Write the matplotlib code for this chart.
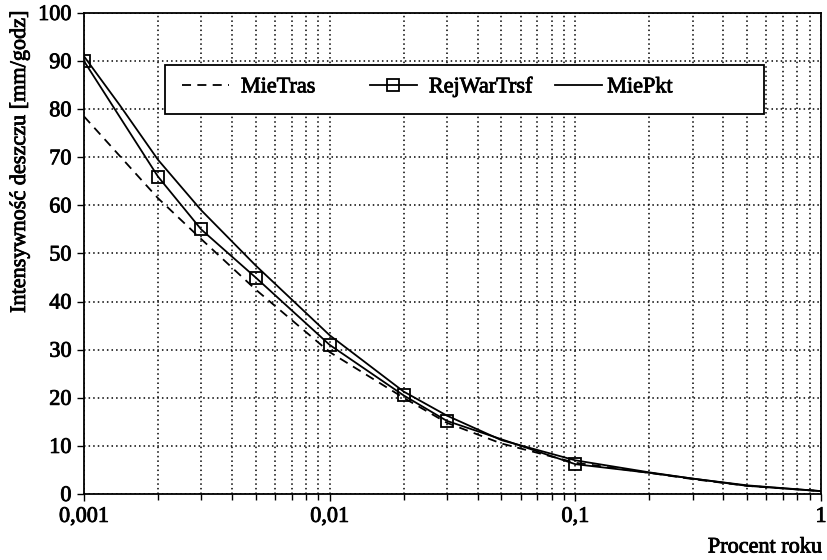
import matplotlib
matplotlib.use("Agg")
import matplotlib.pyplot as plt
import matplotlib.patheffects as pe
from matplotlib.legend import Legend
from matplotlib.patches import Rectangle
from matplotlib.ticker import FixedLocator, FuncFormatter, LogLocator, NullFormatter

# Percent of the year (exceedance) and rain intensity in mm/h
pct_tras = [0.001, 0.002, 0.003, 0.005, 0.01, 0.02, 0.03, 0.05, 0.1, 0.2, 0.3, 0.5, 1.0]
mie_tras = [78.5, 61.5, 53.0, 42.5, 29.5, 20.0, 14.8, 10.5, 6.5, 4.4, 3.1, 1.7, 0.6]

pct_rej = [0.001, 0.002, 0.003, 0.005, 0.01, 0.02, 0.03, 0.1, 0.2, 0.5, 1.0]
rej_war_trsf = [90.0, 66.0, 55.0, 45.0, 31.0, 20.5, 15.2, 6.2, 4.4, 1.7, 0.6]
rej_marked = 8  # squares drawn on the first measured points only

pct_pkt = [0.001, 0.0014, 0.002, 0.003, 0.005, 0.01, 0.02, 0.03, 0.05, 0.1, 0.2, 0.3, 0.5, 1.0]
mie_pkt = [91.0, 80.8, 69.5, 59.0, 47.5, 33.0, 21.3, 16.3, 11.2, 7.0, 4.5, 3.2, 1.8, 0.6]

x_ticks = [0.001, 0.01, 0.1, 1]
x_tick_labels = ["0,001", "0,01", "0,1", "1"]
y_ticks = list(range(0, 101, 10))

plt.rcParams["font.family"] = ["Liberation Serif", "DejaVu Serif"]
FS = 16
heavy = [pe.withStroke(linewidth=0.6, foreground="black")]

fig = plt.figure(figsize=(8.28, 5.6), dpi=100)
ax = fig.add_axes([84 / 828, 1 - 494 / 560, (821 - 84) / 828, (494 - 13) / 560])

l_tras, = ax.plot(pct_tras, mie_tras, color="black", lw=1.3, linestyle=(0, (5, 3.5)), label="MieTras")
l_rej, = ax.plot(pct_rej, rej_war_trsf, color="black", lw=1.3, marker="s", markersize=9,
                 markerfacecolor="none", markeredgecolor="black", markeredgewidth=1.3,
                 markevery=list(range(rej_marked)), label="RejWarTrsf")
l_pkt, = ax.plot(pct_pkt, mie_pkt, color="black", lw=1.3, label="MiePkt")

ax.set_xscale("log")
ax.set_xlim(0.001, 1)
ax.set_ylim(0, 100)

ax.xaxis.set_major_locator(FixedLocator(x_ticks))
ax.xaxis.set_major_formatter(FuncFormatter(lambda v, p: x_tick_labels[x_ticks.index(v)] if v in x_ticks else ""))
ax.xaxis.set_minor_locator(LogLocator(base=10, subs=range(2, 10)))
ax.xaxis.set_minor_formatter(NullFormatter())
ax.yaxis.set_major_locator(FixedLocator(y_ticks))

ax.grid(True, which="major", axis="both", color="black", lw=1.1, linestyle=(0, (1, 2)))
ax.grid(True, which="minor", axis="x", color="black", lw=1.1, linestyle=(0, (1, 2)))

ax.tick_params(axis="both", which="major", direction="out", length=5, width=1,
               labelsize=FS, colors="black")
ax.tick_params(axis="x", which="minor", direction="out", length=4, width=1)
ax.tick_params(axis="x", pad=5)
ax.tick_params(axis="y", pad=4)
for s in ax.spines.values():
    s.set_linewidth(1.3)
    s.set_color("black")
for lbl in ax.get_xticklabels() + ax.get_yticklabels():
    lbl.set_path_effects(heavy)

ylab = ax.set_ylabel("Intensywność deszczu [mm/godz]", fontsize=FS, path_effects=heavy)
ax.yaxis.set_label_coords((30 - 84) / 737, (494 - 162) / 481)
fig.text(822 / 828, 1 - 548 / 560, "Procent roku", ha="right", va="center",
         fontsize=FS, path_effects=heavy)

# Legend: white framed box with three entries laid out in one row
ax.add_patch(Rectangle((0.110, 0.790), 0.813, 0.102, transform=ax.transAxes,
                       facecolor="white", edgecolor="black", lw=1.3, zorder=4))
entries = [(l_tras, 0.133, 0.55), (l_rej, 0.388, 0.55), (l_pkt, 0.639, 0.25)]
for handle, xpos, pad in entries:
    lg = Legend(ax, [handle], [handle.get_label()], loc="center left",
                bbox_to_anchor=(xpos, 0.846), frameon=False, fontsize=FS,
                handlelength=2.1, handletextpad=pad, borderpad=0, borderaxespad=0)
    lg.set_zorder(5)
    for t in lg.get_texts():
        t.set_path_effects(heavy)
    ax.add_artist(lg)

fig.savefig("out.png", dpi=100)
